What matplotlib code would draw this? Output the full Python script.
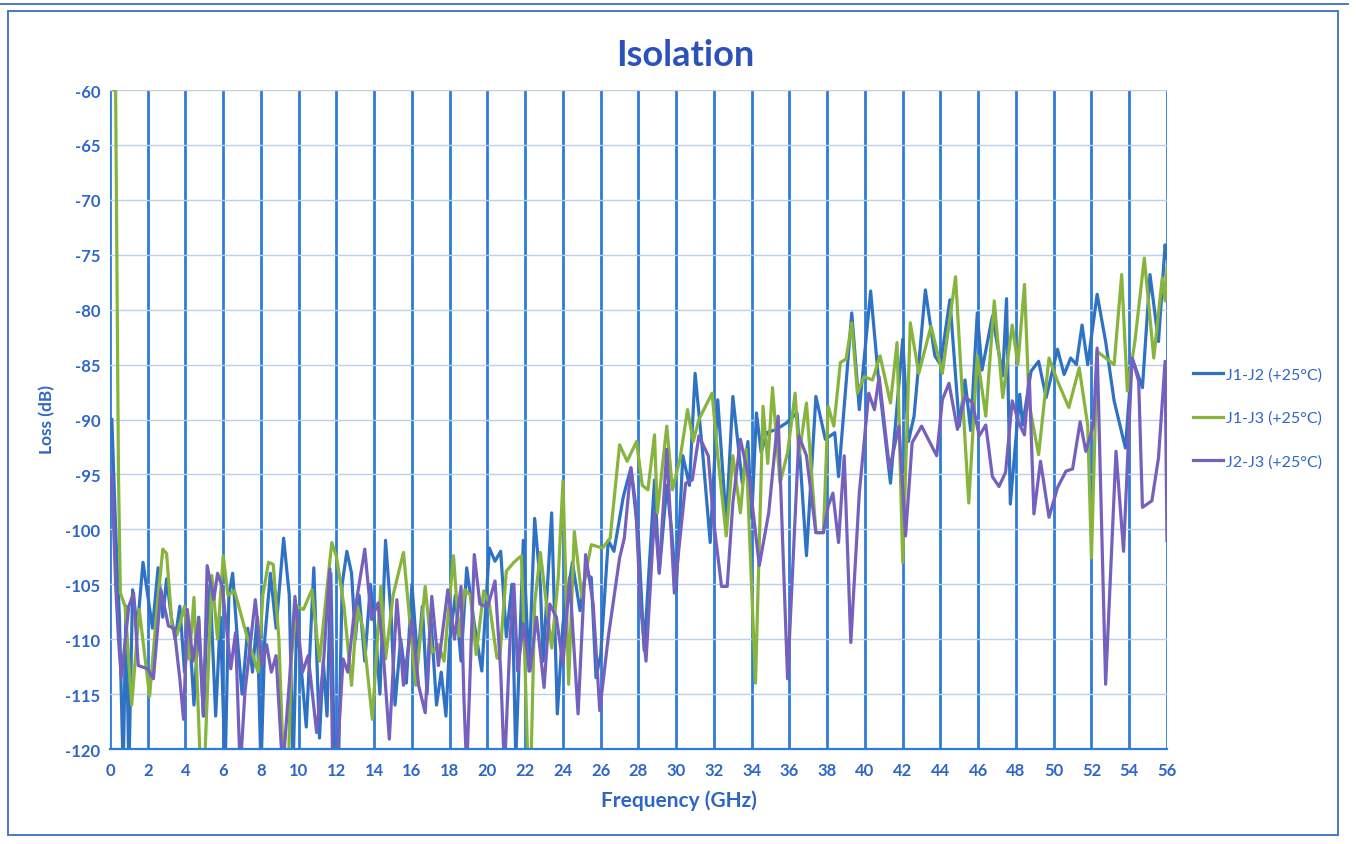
import matplotlib
matplotlib.use("Agg")
import matplotlib.pyplot as plt
from matplotlib.patches import Rectangle
from matplotlib.lines import Line2D

# J1-J2 (+25C) (GHz, dB)
freq_j1j2 = [0.1, 0.3, 0.5, 0.7, 0.85, 1.0, 1.2, 1.45, 1.75, 2.0, 2.25, 2.55, 2.8, 3.0, 3.25, 3.45,
             3.7, 3.95, 4.2, 4.45, 4.7, 4.95, 5.1, 5.3, 5.6, 5.85, 6.1, 6.3, 6.5, 6.75, 7.0, 7.3,
             7.55, 7.8, 8.0, 8.2, 8.5, 8.8, 9.2, 9.5, 9.7, 9.9, 10.1, 10.4, 10.8, 11.1, 11.3, 11.5,
             11.7, 11.9, 12.1, 12.3, 12.55, 12.8, 13.0, 13.2, 13.5, 13.8, 14.1, 14.3, 14.6, 14.9,
             15.1, 15.4, 15.7, 16.0, 16.3, 16.55, 16.8, 17.0, 17.3, 17.55, 17.8, 18.0, 18.3, 18.6,
             18.9, 19.3, 19.7, 20.1, 20.4, 20.7, 21.0, 21.3, 21.5, 21.9, 22.2, 22.5, 22.8, 22.95,
             23.4, 23.7, 24.0, 24.5, 24.9, 25.2, 25.5, 25.75, 26.0, 26.4, 26.7, 27.2, 27.6, 28.0,
             28.3, 28.85, 29.1, 29.5, 29.75, 30.0, 30.35, 30.7, 31.0, 31.4, 31.8, 32.2, 32.65, 33.0,
             33.5, 33.8, 34.0, 34.25, 34.5, 34.8, 35.3, 35.85, 36.4, 36.9, 37.4, 37.9, 38.4, 38.6,
             39.3, 39.7, 40.3, 40.7, 41.35, 42.0, 42.3, 42.6, 43.2, 43.7, 44.0, 44.5, 45.0, 45.3,
             45.6, 45.95, 46.2, 46.75, 47.3, 47.5, 47.7, 48.2, 48.35, 48.8, 49.2, 49.6, 50.2, 50.55,
             50.9, 51.2, 51.5, 51.8, 52.3, 52.75, 53.2, 53.8, 54.15, 54.7, 55.1, 55.55, 55.9, 56.0]
loss_j1j2 = [-90, -100, -108, -122, -107, -122, -105.5, -109, -103, -106, -109, -103.5, -108, -104.5, -108, -110,
             -107, -113, -109, -116, -108, -117, -110, -105, -117, -108, -122, -106, -104, -110, -115, -109,
             -113, -108, -122, -110, -104, -109, -100.8, -106, -122, -108, -112, -118, -103.5, -119, -112, -117,
             -104, -122, -122, -105, -102, -104, -110, -106, -112, -105, -110, -115, -101, -108,
             -116, -110, -114, -105, -112, -107, -115, -108, -116, -113, -117, -110, -106, -112,
             -103.5, -108.6, -112.9, -101.7, -102.9, -102, -109.8, -105, -121, -101, -112.9, -99, -105, -112,
             -98.5, -116.8, -108.6, -103, -107.4, -104, -104.4, -113.5, -111.4, -101, -102, -97, -94.4, -100.8,
             -111, -95.5, -104, -96, -100, -105.5, -93.3, -96, -85.8, -93, -101.2, -88.2, -99.4, -87.9,
             -95.8, -92, -99, -89.4, -93, -91.2, -90.9, -90.3, -89.4, -102.4, -87.9, -91.8, -91.2, -95.2,
             -80.3, -89.1, -78.3, -86, -95.8, -82.7, -92, -89.7, -78.2, -84.2, -85, -79.1, -90.6, -86.4,
             -91, -80.3, -85.5, -80.6, -86, -79, -97.7, -87.7, -90.5, -85.6, -84.7, -88, -83.6, -85.9,
             -84.4, -85, -81.4, -85, -78.6, -82.9, -88.3, -92.6, -84.4, -87.1, -76.8, -82.9, -74.1, -75.3]

# J1-J3 (+25C)
freq_j1j3 = [0.2, 0.3, 0.45, 0.55, 0.8, 1.15, 1.55, 2.1, 2.5, 2.8, 3.0, 3.3, 3.55, 3.95, 4.2, 4.45,
             4.8, 5.0, 5.4, 5.7, 6.0, 6.25, 6.6, 7.3, 7.85, 8.1, 8.4, 8.65, 8.95, 9.2, 9.45, 9.6,
             9.9, 10.25, 10.7, 11.1, 11.75, 12.0, 12.4, 12.8, 13.1, 13.4, 13.9, 14.35, 14.6, 15.0,
             15.55, 16.2, 16.7, 17.05, 17.4, 17.7, 18.2, 18.5, 18.8, 19.1, 19.4, 19.8, 20.1, 20.5,
             20.65, 21.0, 21.4, 21.8, 22.0, 22.15, 22.3, 22.5, 22.8, 23.4, 23.75, 24.0, 24.3, 24.6,
             25.0, 25.2, 25.5, 26.1, 26.5, 27.0, 27.4, 27.9, 28.2, 28.5, 28.85, 29.0, 29.5, 29.8,
             30.2, 30.6, 30.9, 31.2, 31.9, 32.2, 32.65, 33.0, 33.4, 33.7, 34.2, 34.6, 34.85, 35.1,
             35.5, 35.9, 36.3, 36.5, 36.9, 37.4, 37.8, 38.05, 38.35, 38.7, 39.0, 39.3, 39.6, 39.95,
             40.4, 40.8, 41.35, 41.7, 42.0, 42.4, 42.85, 43.5, 44.1, 44.8, 45.1, 45.5, 45.95, 46.4,
             46.85, 47.3, 47.8, 48.1, 48.45, 48.7, 49.2, 49.75, 50.2, 50.8, 51.35, 51.8, 52.0, 52.3,
             52.75, 53.2, 53.6, 53.9, 54.3, 54.8, 55.3, 55.75, 55.9, 56.0]
loss_j1j3 = [-60, -60, -95, -105.8, -107, -116, -107.3, -115.2, -107, -101.8, -102.2, -109, -109.6, -107, -111.8, -106.2,
             -122, -122, -104.2, -110, -102.4, -106, -105.6, -110, -113, -106, -103, -103.2, -110, -122, -122, -111.8,
             -107, -107.3, -105.5, -112, -101.2, -102.5, -107, -114.2, -107, -109, -117.3, -105.2, -111.8, -106,
             -102.1, -114.2, -105.2, -111.2, -110.5, -112, -102.4, -109.7, -105.5, -106, -111.4, -105.6, -106.8, -111.7,
             -111.8, -103.8, -103, -102.4, -112.9, -122, -122, -106.8, -102.1, -110.8, -104.4, -95.6, -114.1, -100.2,
             -106.2, -104, -101.4, -101.7, -100.8, -92.3, -93.8, -92, -96, -96.4, -91.4, -98.5, -90.6, -96.4,
             -93.6, -89.1, -92, -90, -87.6, -93.3, -100.6, -93.3, -98.5, -92.7, -114, -88.8, -94, -87.1,
             -95.8, -93, -87.6, -93.3, -88.5, -100.3, -100.3, -88.8, -90.6, -84.8, -84.5, -81.2, -87.6, -86.1,
             -86.4, -84.2, -88.5, -83, -103, -81.2, -85.8, -81.5, -85.8, -77, -86, -97.6, -84.2, -89.7,
             -79.2, -88, -81.4, -85, -77.7, -88.6, -93.2, -84.4, -86.5, -88.9, -85.3, -90.5, -102.6, -83.8,
             -84.4, -85, -76.8, -87.4, -82.9, -75.3, -84.4, -77.1, -79.2, -76.2]

# J2-J3 (+25C)
freq_j2j3 = [0.1, 0.3, 0.45, 0.6, 1.0, 1.25, 1.5, 2.0, 2.3, 2.7, 3.1, 3.4, 3.7, 3.9, 4.1, 4.4,
             4.7, 4.95, 5.15, 5.5, 5.7, 5.95, 6.4, 6.65, 6.9, 7.15, 7.7, 8.05, 8.3, 8.55, 8.8, 9.15,
             9.5, 9.8, 10.2, 10.5, 10.95, 11.3, 11.65, 11.8, 12.0, 12.35, 12.6, 12.9, 13.5, 13.85,
             14.2, 14.45, 14.8, 15.2, 15.55, 16.0, 16.35, 16.7, 17.05, 17.4, 17.9, 18.25, 18.6, 18.75,
             18.9, 19.3, 19.6, 20.0, 20.4, 20.7, 20.9, 21.2, 21.4, 21.6, 21.9, 22.25, 22.6, 23.0,
             23.3, 23.65, 24.0, 24.35, 24.8, 25.2, 25.6, 25.95, 26.4, 27.0, 27.25, 27.6, 27.85, 28.1,
             28.4, 28.85, 29.1, 29.5, 29.9, 30.5, 30.85, 31.2, 31.7, 31.95, 32.4, 32.7, 33.0, 33.4,
             33.9, 34.4, 34.9, 35.4, 35.9, 36.5, 36.9, 37.4, 37.8, 38.05, 38.3, 38.6, 38.9, 39.25,
             39.7, 40.2, 40.5, 40.75, 41.3, 41.8, 42.15, 42.5, 43.0, 43.8, 44.1, 44.45, 44.9, 45.3,
             45.7, 46.05, 46.4, 46.75, 47.1, 47.45, 47.8, 48.2, 48.45, 48.7, 48.95, 49.3, 49.75, 50.2,
             50.65, 51.0, 51.4, 51.7, 52.1, 52.3, 52.75, 53.3, 53.7, 54.15, 54.5, 54.7, 55.2, 55.55,
             55.9, 56.0]
loss_j2j3 = [-95, -105, -110, -113.5, -107, -105.8, -112.4, -112.7, -113.6, -105.5, -108.8, -109, -113.6, -117.3, -107.3, -112,
             -108.2, -117, -103.3, -106.4, -104, -105.2, -112.7, -109.4, -122, -114.8, -106.4, -112.4, -110.5, -113, -111.5, -122,
             -114, -106.1, -113, -111.5, -118.5, -112.4, -103.6, -122, -122, -111.8, -113, -108.2, -101.8, -108.2,
             -106.7, -110.6, -119.1, -106.4, -114.2, -108.2, -114.2, -116.7, -106.1, -112.4, -105.5, -110, -105.2, -115.3,
             -122, -102.3, -106.8, -107.1, -104.7, -112.9, -122, -109.8, -105, -112.9, -108.6, -112.9, -108, -114.4,
             -106.8, -108, -112.3, -104.4, -116.8, -102.3, -106.8, -116.5, -109.8, -102.6, -100.8, -94.4, -97.7, -106.8,
             -112, -98.5, -103.9, -92.7, -105.8, -95.8, -95.5, -91.5, -93.3, -98.8, -105.2, -105.2, -97.6, -91.8,
             -95.8, -103.3, -98.5, -89.7, -113.6, -91.5, -93.3, -100.3, -100.3, -97.9, -96.7, -101.2, -93.3, -110.3,
             -96.7, -87.6, -89.1, -86.1, -94.5, -90.6, -100.6, -92.1, -90.6, -93.3, -88.2, -86.7, -90.9, -87.9,
             -88.5, -91.5, -90.5, -95.2, -96.1, -94.8, -88.3, -90.5, -91.4, -85.9, -98.6, -93.8, -98.9, -96.2,
             -94.7, -94.5, -90.2, -92.9, -90.5, -83.5, -114.1, -92.9, -102, -84.4, -86.5, -98, -97.4, -93.5,
             -84.7, -101]

series_names = ["J1-J2 (+25°C)", "J1-J3 (+25°C)", "J2-J3 (+25°C)"]
series_colors = ["#2F72C4", "#86B43C", "#7560BE"]
x_ticks = list(range(0, 57, 2))
y_ticks = list(range(-120, -59, 5))

text_blue = "#2E66C8"
plt.rcParams['font.family'] = ['Lato', 'DejaVu Sans']
plt.rcParams['axes.unicode_minus'] = False

fig = plt.figure(figsize=(13.56, 8.45), dpi=100)
ax = fig.add_axes([0.0811, 0.1124, 0.7795, 0.7799])

ax.plot(freq_j1j2, loss_j1j2, color=series_colors[0], lw=2.3, label=series_names[0],
        solid_joinstyle='round')
ax.plot(freq_j1j3, loss_j1j3, color=series_colors[1], lw=2.3, label=series_names[1],
        solid_joinstyle='round')
ax.plot(freq_j2j3, loss_j2j3, color=series_colors[2], lw=2.3, label=series_names[2],
        solid_joinstyle='round')

ax.set_xlim(0, 56)
ax.set_ylim(-120, -60)
ax.set_xticks(x_ticks)
ax.set_yticks(y_ticks)
ax.set_axisbelow(True)
ax.grid(axis='x', color="#2F7BD8", lw=2.0)
ax.grid(axis='y', color="#B9D1EE", lw=1.0)
for s in ['top', 'right', 'left']:
    ax.spines[s].set_visible(False)
ax.spines['bottom'].set_color("#2F7BD8")
ax.spines['bottom'].set_linewidth(1.6)
ax.tick_params(axis='both', length=0, labelcolor=text_blue, labelsize=12)
ax.tick_params(axis='x', pad=9)
ax.tick_params(axis='y', pad=7)
for lab in ax.get_xticklabels() + ax.get_yticklabels():
    lab.set_fontweight('bold')

fig.text(0.505, 1 - 55 / 845, "Isolation", ha='center', va='center',
         fontsize=26, fontweight='bold', color="#2B52B8")
fig.text(0.501, 1 - 801 / 845, "Frequency (GHz)", ha='center', va='center',
         fontsize=15, fontweight='bold', color=text_blue)
fig.text(47 / 1356, 1 - 420 / 845, "Loss (dB)", ha='center', va='center', rotation=90,
         fontsize=12.5, fontweight='bold', color=text_blue)

leg = ax.legend(loc='center left', bbox_to_anchor=(1185 / 1356, 1 - 419 / 845),
                bbox_transform=fig.transFigure, frameon=False, fontsize=11.5,
                handlelength=1.9, handletextpad=0.15, labelspacing=1.8, borderpad=0)
for t in leg.get_texts():
    t.set_color(text_blue)

# chart border and page edge
fig.add_artist(Rectangle((8 / 1356, 1 - 836 / 845), 1330 / 1356, 824 / 845,
                         transform=fig.transFigure, fill=False, edgecolor="#3D6CC0", lw=1.3))
fig.add_artist(Line2D([0, 1348 / 1356], [1 - 5 / 845, 1 - 5 / 845],
                      transform=fig.transFigure, color="#3D6CC0", lw=1.3))

fig.savefig("out.png", dpi=100)
